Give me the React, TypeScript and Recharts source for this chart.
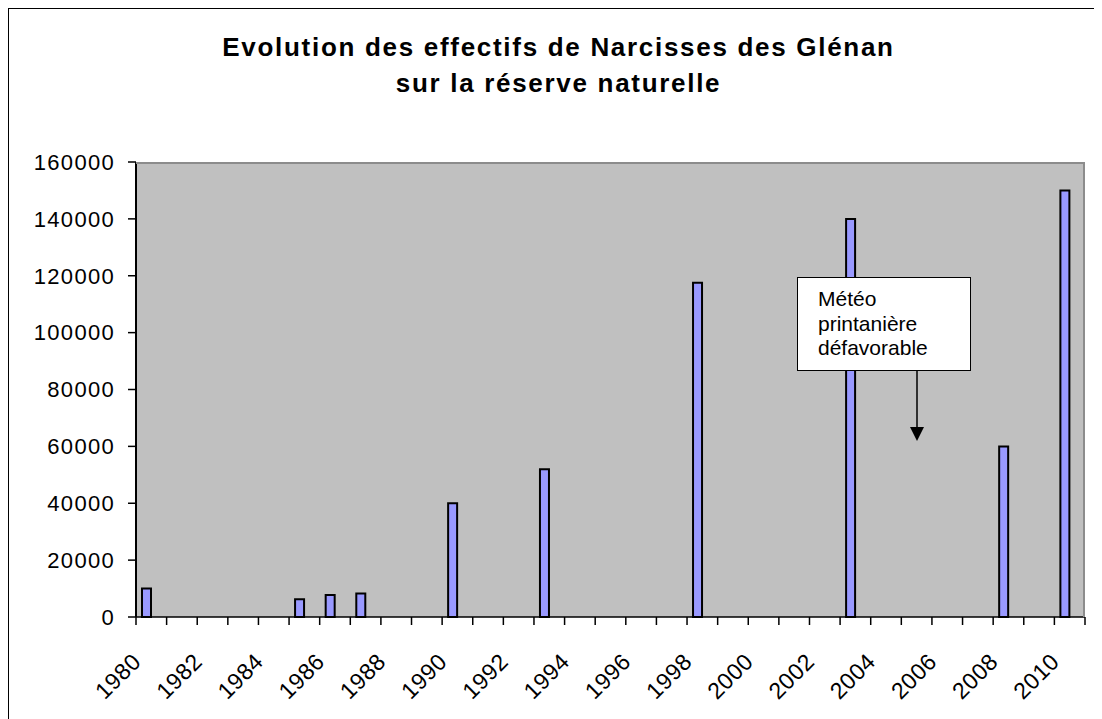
import { BarChart, Bar, XAxis, YAxis, CartesianGrid } from "recharts";

// années (axe des catégories)
const YEARS = [
  "1980", "1981", "1982", "1983", "1984", "1985", "1986", "1987", "1988", "1989",
  "1990", "1991", "1992", "1993", "1994", "1995", "1996", "1997", "1998", "1999",
  "2000", "2001", "2002", "2003", "2004", "2005", "2006", "2007", "2008", "2009",
  "2010",
];

// effectifs comptés (null = pas de comptage)
const EFFECTIFS: (number | null)[] = [
  10000, null, null, null, null, 6200, 7700, 8300, null, null,
  40000, null, null, 52000, null, null, null, null, 117500, null,
  null, null, null, 140000, null, null, null, null, 60000, null,
  150000,
];

// seconde série vide du classeur (réserve sa place à côté des barres)
const AUTRE: (number | null)[] = YEARS.map(() => null);

const Y_TICKS = [0, 20000, 40000, 60000, 80000, 100000, 120000, 140000, 160000];

const TITLE = ["Evolution des effectifs de Narcisses des Glénan", "sur la réserve naturelle"];
const NOTE = ["Météo", "printanière", "défavorable"];

const data = YEARS.map((year, i) => ({ year, effectif: EFFECTIFS[i], autre: AUTRE[i] }));

const W = 1091;
const H = 720;
const M = { top: 153, right: 15, left: 0, bottom: 0 };
const Y_AXIS_W = 127;
const BAND = (W - M.left - M.right - Y_AXIS_W) / YEARS.length;
const FONT = '"Liberation Sans", Arial, sans-serif';

function YearTick(props: any) {
  const { x, y, payload } = props;
  const i = YEARS.indexOf(String(payload.value));
  const half = BAND / 2;
  const lx = x - 9;
  const ly = y + 46;
  return (
    <g>
      <line x1={x - half} y1={y} x2={x - half} y2={y + 8} stroke="#000" strokeWidth={1.5} />
      {i === YEARS.length - 1 && (
        <line x1={x + half} y1={y} x2={x + half} y2={y + 8} stroke="#000" strokeWidth={1.5} />
      )}
      {i % 2 === 0 && (
        <text
          x={lx}
          y={ly}
          transform={`rotate(-45, ${lx}, ${ly})`}
          textAnchor="end"
          fontSize={23}
          letterSpacing={0.5}
          fontFamily={FONT}
          fill="#000"
        >
          {payload.value}
        </text>
      )}
    </g>
  );
}

export default function App() {
  return (
    <div
      style={{
        position: "relative",
        width: W,
        height: H,
        borderTop: "1px solid #000",
        borderLeft: "1px solid #000",
        borderRight: "1px solid #808080",
        fontFamily: FONT,
        background: "#fff",
      }}
    >
      <div
        style={{
          position: "absolute",
          top: 20,
          left: 4,
          width: W,
          textAlign: "center",
          fontWeight: "bold",
          fontSize: 26,
          lineHeight: "36px",
          letterSpacing: 1.7,
          color: "#000",
        }}
      >
        {TITLE.map((t) => (
          <div key={t}>{t}</div>
        ))}
      </div>

      <BarChart width={W} height={H} data={data} margin={M} barGap={0}>
        <CartesianGrid fill="#c0c0c0" horizontal={false} vertical={false} />
        <XAxis
          dataKey="year"
          interval={0}
          tickSize={0}
          tickMargin={0}
          tickLine={false}
          height={H - M.top - 455}
          axisLine={{ stroke: "#000", strokeWidth: 1.5 }}
          tick={<YearTick />}
        />
        <YAxis
          width={Y_AXIS_W}
          domain={[0, 160000]}
          ticks={Y_TICKS}
          interval={0}
          tickSize={8}
          tickMargin={13}
          axisLine={{ stroke: "#000", strokeWidth: 2 }}
          tickLine={{ stroke: "#000", strokeWidth: 1.5 }}
          tick={{ fill: "#000", fontSize: 22, fontFamily: FONT, letterSpacing: 1.3 }}
        />
        <Bar
          dataKey="effectif"
          fill="#9999ff"
          stroke="#000"
          strokeWidth={2}
          barSize={9}
          isAnimationActive={false}
        />
        <Bar dataKey="autre" fill="#993366" barSize={9} isAnimationActive={false} />
      </BarChart>

      {/* bord haut/droit de la zone de traçage */}
      <div
        style={{
          position: "absolute",
          left: M.left + Y_AXIS_W,
          top: M.top,
          width: W - M.left - M.right - Y_AXIS_W,
          height: 455,
          boxSizing: "border-box",
          borderTop: "2px solid #8c8c8c",
          borderRight: "2px solid #8c8c8c",
          pointerEvents: "none",
        }}
      />

      <div
        style={{
          position: "absolute",
          left: 788,
          top: 268,
          width: 174,
          height: 94,
          boxSizing: "border-box",
          border: "1.5px solid #000",
          background: "#fff",
          paddingLeft: 20,
          paddingTop: 9,
          fontSize: 21,
          lineHeight: "24.5px",
          color: "#000",
        }}
      >
        {NOTE.map((t) => (
          <div key={t}>{t}</div>
        ))}
      </div>
      <svg
        style={{ position: "absolute", left: 898, top: 362, overflow: "visible" }}
        width={20}
        height={80}
      >
        <line x1={10} y1={0} x2={10} y2={56} stroke="#000" strokeWidth={1.5} />
        <polygon points="3,56 17,56 10,70" fill="#000" />
      </svg>
    </div>
  );
}
